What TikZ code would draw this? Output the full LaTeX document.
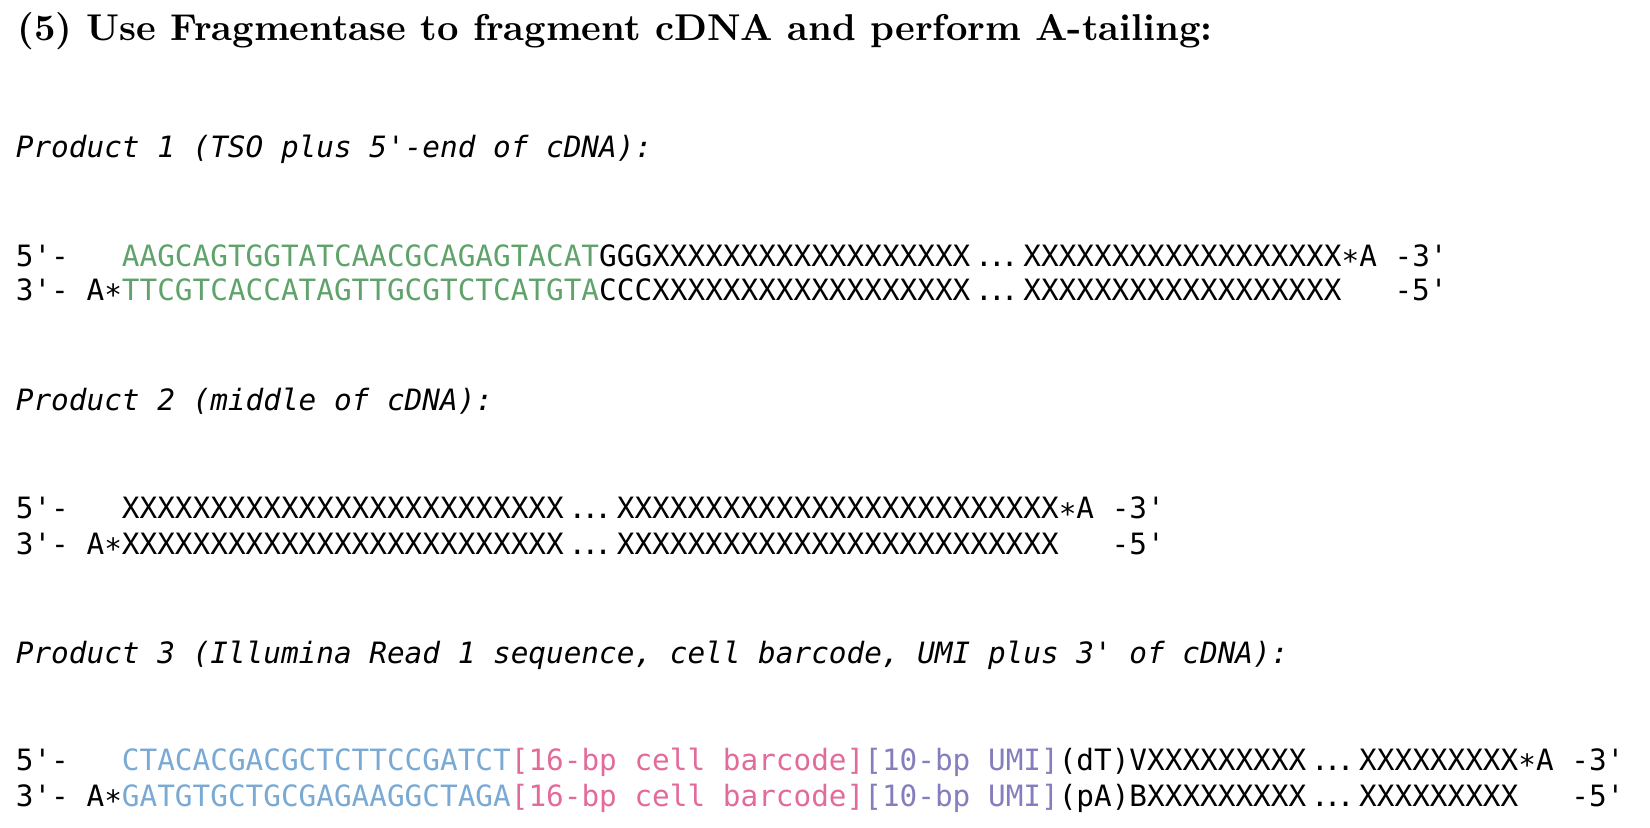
\documentclass[tikz,border=0pt]{standalone}
\usepackage{fontspec}
\usepackage{graphicx}
\setmonofont{DejaVu Sans Mono}
\usepackage{xcolor}

\definecolor{tsogreen}{RGB}{95,163,106}
\definecolor{readblue}{RGB}{122,170,212}
\definecolor{bcpink}{RGB}{226,107,155}
\definecolor{umipurple}{RGB}{132,126,190}

% width of one character cell of DejaVu Sans Mono at 14.68pt (0.60205 em)
\newlength\cellw
\setlength{\cellw}{8.838pt}
% blank character cells, and a dotted gap three cells wide
\newcommand\blank[1]{\hspace*{#1\cellw}}
\newcommand\ellip{\makebox[3\cellw][c]{.\kern-2.4pt.\kern-2.4pt.}}
% the asterisk that marks the added A, set at mid height
\newcommand\tailmark{\raisebox{-0.18em}{*}}

\begin{document}
\begin{tikzpicture}[x=0.5pt,y=-0.5pt,
  seqline/.style={anchor=base west,inner sep=0pt,font=\fontsize{14.68}{17}\ttfamily},
  prodhead/.style={anchor=base west,inner sep=0pt,font=\fontsize{14.68}{17}\ttfamily\itshape},
  heading/.style={anchor=base west,inner sep=0pt}]
\useasboundingbox (0,0) rectangle (1650,828);

% heading
\node[heading] (title) at (17,40.5)
  {\resizebox{597.5pt}{!}{\bfseries (5) Use Fragmentase to fragment cDNA and perform A-tailing:}};

% product 1
\node[prodhead] (p1head) at (15.5,158) {Product 1 (TSO plus 5'-end of cDNA):};
\node[seqline] (p1top) at (15.5,266.5)
  {5'-\blank{3}\textcolor{tsogreen}{AAGCAGTGGTATCAACGCAGAGTACAT}GGGXXXXXXXXXXXXXXXXXX\ellip XXXXXXXXXXXXXXXXXX\tailmark A\blank{1}-3'};
\node[seqline] (p1bot) at (15.5,300.5)
  {3'-\blank{1}A\tailmark\textcolor{tsogreen}{TTCGTCACCATAGTTGCGTCTCATGTA}CCCXXXXXXXXXXXXXXXXXX\ellip XXXXXXXXXXXXXXXXXX\blank{3}-5'};

% product 2
\node[prodhead] (p2head) at (15.5,410.5) {Product 2 (middle of cDNA):};
\node[seqline] (p2top) at (15.5,519)
  {5'-\blank{3}XXXXXXXXXXXXXXXXXXXXXXXXX\ellip XXXXXXXXXXXXXXXXXXXXXXXXX\tailmark A\blank{1}-3'};
\node[seqline] (p2bot) at (15.5,554)
  {3'-\blank{1}A\tailmark XXXXXXXXXXXXXXXXXXXXXXXXX\ellip XXXXXXXXXXXXXXXXXXXXXXXXX\blank{3}-5'};

% product 3
\node[prodhead] (p3head) at (15.5,663) {Product 3 (Illumina Read 1 sequence, cell barcode, UMI plus 3' of cDNA):};
\node[seqline] (p3top) at (15.5,770.5)
  {5'-\blank{3}\textcolor{readblue}{CTACACGACGCTCTTCCGATCT}\textcolor{bcpink}{[16-bp cell barcode]}\textcolor{umipurple}{[10-bp UMI]}(dT)VXXXXXXXXX\ellip XXXXXXXXX\tailmark A\blank{1}-3'};
\node[seqline] (p3bot) at (15.5,806)
  {3'-\blank{1}A\tailmark\textcolor{readblue}{GATGTGCTGCGAGAAGGCTAGA}\textcolor{bcpink}{[16-bp cell barcode]}\textcolor{umipurple}{[10-bp UMI]}(pA)BXXXXXXXXX\ellip XXXXXXXXX\blank{3}-5'};
\end{tikzpicture}
\end{document}
